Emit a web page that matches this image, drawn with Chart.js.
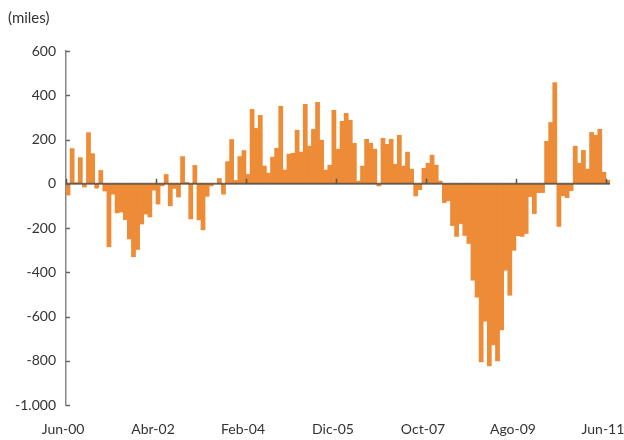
<!DOCTYPE html>
<html lang="es">
<head>
    <meta charset="UTF-8">
    <title>Miles</title>
    <script src="https://cdn.jsdelivr.net/npm/chart.js"></script>
    <style>
        html, body { margin: 0; padding: 0; background: #fff; }
        #wrap { width: 624px; height: 440px; }
    </style>
</head>
<body>
    <div id="wrap"><canvas id="milesChart"></canvas></div>
    <script>
        // monthly series, Jun-00 .. Jun-11
        const monthNames = ['Ene', 'Feb', 'Mar', 'Abr', 'May', 'Jun', 'Jul', 'Ago', 'Sep', 'Oct', 'Nov', 'Dic'];
        const startYear = 2000;
        const startMonth = 5; // Jun
        const labelEvery = 22;
        const yTicks = [600, 400, 200, 0, -200, -400, -600, -800, -1000];
        const unitLabel = '(miles)';

        const values = [
            -51, 159, 5, 118, -15, 231, 136, -20, 60, -33,
            -285, -47, -132, -128, -162, -249, -330, -297, -182, -137,
            -150, -29, -92, -10, 42, -100, -21, -60, 123, 6,
            -159, 83, -163, -208, -57, -10, 0, 24, -47, 100,
            200, 15, 123, 150, 42, 336, 250, 309, 80, 48,
            120, 160, 350, 62, 134, 138, 242, 143, 359, 170,
            246, 368, 197, 62, 84, 332, 156, 282, 318, 287,
            183, 12, 80, 201, 183, 156, -10, 205, 178, 201,
            88, 219, 80, 143, 66, -55, -27, 70, 93, 129,
            84, 12, -85, -77, -189, -238, -180, -234, -270, -436,
            -513, -805, -621, -823, -729, -801, -661, -391, -504, -301,
            -235, -238, -225, -58, -135, -40, -40, 192, 277, 457,
            -193, -54, -63, -31, 170, 93, 151, 66, 232, 219,
            246, 52, 16
        ];

        const labels = values.map((v, i) => {
            const m = startMonth + i;
            const yr = (startYear + Math.floor(m / 12)) % 100;
            return monthNames[m % 12] + '-' + String(yr).padStart(2, '0');
        });

        const fmt = v => {
            const s = Math.abs(v).toString().replace(/\B(?=(\d{3})+(?!\d))/g, '.');
            return (v < 0 ? '-' : '') + s;
        };

        // zero line, inner tick marks, unit label
        const decor = {
            id: 'decor',
            afterDatasetsDraw(chart) {
                const { ctx, chartArea: a, scales: { x, y } } = chart;
                const y0 = y.getPixelForValue(0);
                const half = (x.getPixelForValue(1) - x.getPixelForValue(0)) / 2;
                ctx.save();
                ctx.strokeStyle = 'rgba(70,70,70,0.75)';
                ctx.lineWidth = 2;
                ctx.beginPath();
                ctx.moveTo(a.left, y0);
                ctx.lineTo(a.right, y0);
                ctx.stroke();
                ctx.lineWidth = 1.5;
                ctx.strokeStyle = '#555';
                for (let i = 0; i < labels.length; i += labelEvery) {
                    const px = Math.round(x.getPixelForValue(i) - half) + 0.5;
                    ctx.beginPath();
                    ctx.moveTo(px, y0);
                    ctx.lineTo(px, y0 - 5);
                    ctx.stroke();
                }
                ctx.strokeStyle = '#666';
                ctx.lineWidth = 1.5;
                yTicks.forEach(t => {
                    const py = Math.round(y.getPixelForValue(t)) + 0.5;
                    ctx.beginPath();
                    ctx.moveTo(a.left, py);
                    ctx.lineTo(a.left + 4, py);
                    ctx.stroke();
                });
                ctx.fillStyle = '#333';
                ctx.font = '15px Lato';
                ctx.textBaseline = 'middle';
                ctx.fillText(unitLabel, 8, 18);
                ctx.restore();
            }
        };

        const ctx = document.getElementById('milesChart').getContext('2d');
        new Chart(ctx, {
            type: 'bar',
            data: {
                labels: labels,
                datasets: [{
                    data: values,
                    backgroundColor: '#EE8B36',
                    borderWidth: 0,
                    barPercentage: 1,
                    categoryPercentage: 1
                }]
            },
            options: {
                responsive: true,
                maintainAspectRatio: false,
                animation: false,
                layout: { padding: { top: 51, right: 14, left: 0, bottom: 0 } },
                plugins: { legend: { display: false }, tooltip: { enabled: false } },
                scales: {
                    x: {
                        grid: { display: false, drawTicks: false },
                        border: { display: false },
                        ticks: {
                            autoSkip: false,
                            maxRotation: 0,
                            padding: 16,
                            labelOffset: -5,
                            color: '#333',
                            font: { family: 'Lato', size: 14 },
                            callback: (v, i) => (i % labelEvery === 0 ? labels[i] : '')
                        },
                        afterFit: s => { s.height = 35; s.paddingLeft = 0; s.paddingRight = 0; }
                    },
                    y: {
                        min: -1000,
                        max: 600,
                        grid: { display: false, drawTicks: false },
                        border: { display: true, color: '#888', width: 1.5 },
                        ticks: {
                            stepSize: 200,
                            padding: 10,
                            color: '#333',
                            font: { family: 'Lato', size: 14 },
                            callback: v => fmt(v)
                        },
                        afterFit: s => { s.width = 66; }
                    }
                }
            },
            plugins: [decor]
        });
    </script>
</body>
</html>
